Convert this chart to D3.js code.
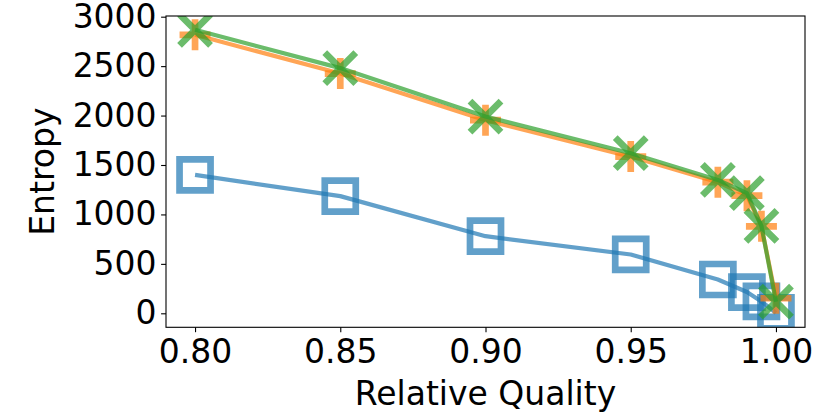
<!DOCTYPE html>
<html>
<head>
<meta charset="utf-8">
<script src="https://cdn.jsdelivr.net/npm/d3@7"></script>
<style>
  body { margin: 0; background: #fff; }
  text { font-family: "DejaVu Sans", sans-serif; fill: #000; }
</style>
</head>
<body>
<div class="chart"></div>
<script>
// values
const quality = [0.80, 0.85, 0.90, 0.95, 0.98, 0.99, 0.995, 1.00];
const entropy_blue = [1400, 1185, 780, 595, 342, 215, 120, 5];
const entropy_orange = [2817, 2425, 1953, 1585, 1326, 1190, 880, 152];
const entropy_green = [2867, 2480, 1990, 1619, 1349, 1215, 884, 117];

const x_ticks = [0.80, 0.85, 0.90, 0.95, 1.00];
const y_ticks = [0, 500, 1000, 1500, 2000, 2500, 3000];

const W = 830, H = 415;
const margin = { top: 16, bottom: 87.7, left: 166, right: 25 };
const font_size = 33;
const marker_size = 31;
const marker_stroke = 6.7;
const line_width = 4.2;
const alpha = 0.7;

const svg = d3.select('.chart')
    .append('svg')
    .attr('width', W)
    .attr('height', H);

var x_scale = d3.scaleLinear()
    .domain([0.79, 1.01])
    .range([margin.left, W - margin.right]);

var y_scale = d3.scaleLinear()
    .domain([-141.6, 3007])
    .range([H - margin.bottom, margin.top]);

// clip marks to the axes box like matplotlib does
svg.append('clipPath')
    .attr('id', 'plot_clip')
    .append('rect')
    .attr('x', margin.left)
    .attr('y', margin.top)
    .attr('width', W - margin.left - margin.right)
    .attr('height', H - margin.top - margin.bottom);

const plot = svg.append('g').attr('clip-path', 'url(#plot_clip)');

const series = [
    { values: entropy_blue, color: '#1f77b4', marker: 'square' },
    { values: entropy_orange, color: '#ff7f0e', marker: 'plus' },
    { values: entropy_green, color: '#2ca02c', marker: 'cross' }
];

function markerPath(type) {
    var h = marker_size / 2;
    if (type === 'square') return `M${-h},${-h}H${h}V${h}H${-h}Z`;
    if (type === 'plus') return `M${-h},0H${h}M0,${-h}V${h}`;
    return `M${-h},${-h}L${h},${h}M${-h},${h}L${h},${-h}`;
}

var line = d3.line()
    .x(function(d, i) { return x_scale(quality[i]); })
    .y(function(d) { return y_scale(d); });

series.forEach(function(s) {
    var g = plot.append('g').attr('opacity', 1);

    g.append('path')
        .attr('d', line(s.values))
        .attr('fill', 'none')
        .attr('stroke', s.color)
        .attr('stroke-opacity', alpha)
        .attr('stroke-width', line_width)
        .attr('stroke-linejoin', 'round')
        .attr('stroke-linecap', 'butt');

    g.selectAll('path.marker')
        .data(s.values)
        .enter()
        .append('path')
        .attr('class', 'marker')
        .attr('d', markerPath(s.marker))
        .attr('transform', function(d, i) {
            return `translate(${x_scale(quality[i])},${y_scale(d)})`;
        })
        .attr('fill', 'none')
        .attr('stroke', s.color)
        .attr('stroke-opacity', alpha)
        .attr('stroke-width', marker_stroke)
        .attr('stroke-linejoin', 'miter')
        .attr('stroke-linecap', 'butt');
});

// axes
var x_axis = svg.append('g')
    .attr('transform', `translate(0,${H - margin.bottom})`)
    .call(d3.axisBottom(x_scale)
        .tickValues(x_ticks)
        .tickFormat(d3.format('.2f'))
        .tickSize(4.9)
        .tickPadding(4.5)
        .tickSizeOuter(0));

var y_axis = svg.append('g')
    .attr('transform', `translate(${margin.left},0)`)
    .call(d3.axisLeft(y_scale)
        .tickValues(y_ticks)
        .tickFormat(d3.format('d'))
        .tickSize(4.9)
        .tickPadding(4.5)
        .tickSizeOuter(0));

svg.selectAll('.domain').remove();
svg.selectAll('.tick line').attr('stroke', '#000').attr('stroke-width', 1.1);
svg.selectAll('.tick text')
    .style('font-family', '"DejaVu Sans", sans-serif')
    .style('font-size', font_size + 'px')
    .attr('fill', '#000');

x_axis.selectAll('.tick text').attr('dy', null).attr('y', 0)
    .attr('transform', 'translate(0,35.8)');

// frame
svg.append('rect')
    .attr('x', margin.left)
    .attr('y', margin.top)
    .attr('width', W - margin.left - margin.right)
    .attr('height', H - margin.top - margin.bottom)
    .attr('fill', 'none')
    .attr('stroke', '#000')
    .attr('stroke-width', 1.1);

// axis labels
svg.append('text')
    .attr('x', (margin.left + W - margin.right) / 2)
    .attr('y', 405)
    .attr('text-anchor', 'middle')
    .style('font-size', font_size + 'px')
    .text('Relative Quality');

svg.append('text')
    .attr('transform', `translate(54,${(margin.top + H - margin.bottom) / 2}) rotate(-90)`)
    .attr('text-anchor', 'middle')
    .style('font-size', font_size + 'px')
    .text('Entropy');
</script>
</body>
</html>
